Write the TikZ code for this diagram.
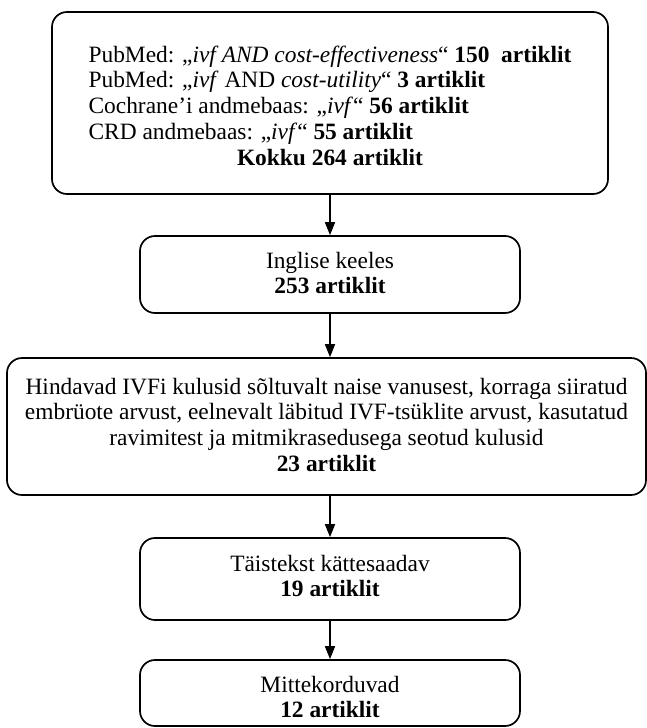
\documentclass[tikz,border=0pt]{standalone}
\usepackage{fontspec}
\setmainfont{Liberation Serif}
\usetikzlibrary{arrows.meta}
\begin{document}
\begin{tikzpicture}[x=1pt,y=-1pt,
  box/.style={draw, line width=1.7pt, rounded corners=15pt, inner sep=0pt},
  txt/.style={inner sep=0pt, anchor=base, font=\fontsize{23.4}{25.8}\selectfont},
  arr/.style={line width=1.7pt, -{Triangle[length=13pt,width=10pt]}}]
\useasboundingbox (0,0) rectangle (647,728);
% boxes
\node[box, minimum width=556pt, minimum height=182pt] (b1) at (330,103) {};
\node[box, minimum width=380pt, minimum height=77pt] (b2) at (330,274.5) {};
\node[box, minimum width=639pt, minimum height=137pt] (b3) at (326.5,426.5) {};
\node[box, minimum width=380pt, minimum height=82pt] (b4) at (330,579) {};
\node[box, minimum width=380pt, minimum height=66pt] (b5) at (330,693) {};
% texts
\node[txt] (t1) at (330,62) {%
  \begin{tabular}[t]{@{}l@{}}
  PubMed: „\textit{ivf AND cost-effectiveness}“ \textbf{150\ \ artiklit}\\
  PubMed: „\textit{ivf} AND \textit{cost-utility}“ \textbf{3 artiklit}\\
  Cochrane’i andmebaas: „\textit{ivf}“ \textbf{56 artiklit}\\
  CRD andmebaas: „\textit{ivf}“ \textbf{55 artiklit}\\
  \multicolumn{1}{@{}c@{}}{\textbf{Kokku 264 artiklit}}
  \end{tabular}};
\node[txt] (t2) at (330,268) {%
  \begin{tabular}[t]{@{}c@{}}Inglise keeles\\\textbf{253 artiklit}\end{tabular}};
\node[txt] (t3) at (326.5,394) {%
  \begin{tabular}[t]{@{}c@{}}
  Hindavad IVFi kulusid sõltuvalt naise vanusest, korraga siiratud\\
  embrüote arvust, eelnevalt läbitud IVF-tsüklite arvust, kasutatud\\
  ravimitest ja mitmikrasedusega seotud kulusid\\
  \textbf{23 artiklit}
  \end{tabular}};
\node[txt] (t4) at (330,571) {%
  \begin{tabular}[t]{@{}c@{}}Täistekst kättesaadav\\\textbf{19 artiklit}\end{tabular}};
\node[txt] (t5) at (330,692) {%
  \begin{tabular}[t]{@{}c@{}}Mittekorduvad\\\textbf{12 artiklit}\end{tabular}};
% arrows
\draw[arr] (b1.south) -- (b2.north);
\draw[arr] (b2.south) -- (b2.south |- b3.north);
\draw[arr] (b4.north |- b3.south) -- (b4.north);
\draw[arr] (b4.south) -- (b5.north);
\end{tikzpicture}
\end{document}
